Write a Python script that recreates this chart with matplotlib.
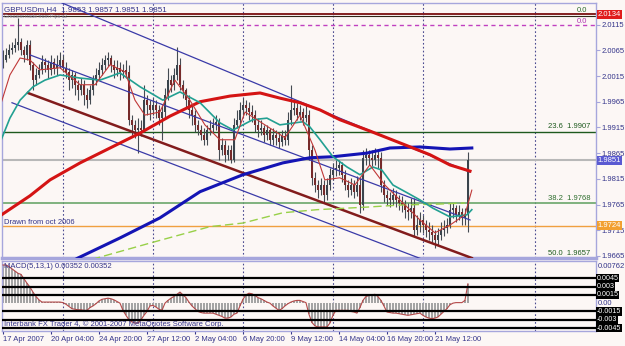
import numpy as np
import matplotlib
matplotlib.use("Agg")
import matplotlib.pyplot as plt

plt.rcParams["font.family"] = ["Liberation Sans", "DejaVu Sans"]

# ---- candle data (GBPUSDm H4, bar index 0 = 17 Apr 2007 00:00) ----
closes = [
    2.0046, 2.0056, 2.0066, 2.0070, 2.0075, 2.0081, 2.0066, 2.0056, 2.0075, 2.0037,
    2.0007, 2.0017, 2.0027, 2.0042, 2.0037, 2.0027, 2.0042, 2.0031, 2.0037, 2.0046,
    2.0031, 2.0023, 2.0007, 2.0017, 1.9998, 1.9988, 1.9998, 1.9978, 1.9968, 1.9988,
    2.0007, 2.0017, 2.0027, 2.0037, 2.0046, 2.0050, 2.0037, 2.0027, 2.0031, 2.0023,
    2.0027, 2.0023, 1.9930, 1.9920, 1.9910, 1.9914, 1.9910, 1.9968, 1.9959, 1.9949,
    1.9959, 1.9949, 1.9933, 1.9945, 1.9978, 2.0007, 1.9998, 2.0017, 2.0037, 1.9998,
    1.9988, 1.9968, 1.9949, 1.9939, 1.9920, 1.9910, 1.9900, 1.9891, 1.9910, 1.9914,
    1.9920, 1.9926, 1.9871, 1.9881, 1.9862, 1.9871, 1.9852, 1.9920, 1.9930, 1.9949,
    1.9959, 1.9953, 1.9945, 1.9939, 1.9920, 1.9910, 1.9914, 1.9900, 1.9910, 1.9891,
    1.9900, 1.9895, 1.9887, 1.9898, 1.9891, 1.9930, 1.9949, 1.9953, 1.9939, 1.9945,
    1.9933, 1.9939, 1.9871, 1.9817, 1.9803, 1.9793, 1.9803, 1.9784, 1.9803, 1.9823,
    1.9832, 1.9836, 1.9842, 1.9823, 1.9803, 1.9793, 1.9803, 1.9790, 1.9803, 1.9764,
    1.9856, 1.9862, 1.9856, 1.9852, 1.9862, 1.9856, 1.9803, 1.9784, 1.9778, 1.9774,
    1.9784, 1.9774, 1.9768, 1.9764, 1.9755, 1.9751, 1.9758, 1.9716, 1.9725, 1.9735,
    1.9725, 1.9716, 1.9712, 1.9706, 1.9696, 1.9706, 1.9716, 1.9720, 1.9725, 1.9755,
    1.9758, 1.9745, 1.9751, 1.9739, 1.9745, 1.9851,
]
highs = [
    2.0066, 2.0070, 2.0077, 2.0081, 2.0089, 2.0128, 2.0089, 2.0074, 2.0085, 2.0085,
    2.0042, 2.0031, 2.0039, 2.0056, 2.0050, 2.0046, 2.0056, 2.0050, 2.0056, 2.0062,
    2.0056, 2.0042, 2.0031, 2.0027, 2.0023, 2.0007, 2.0011, 2.0007, 1.9992, 1.9998,
    2.0017, 2.0031, 2.0042, 2.0050, 2.0056, 2.0062, 2.0056, 2.0046, 2.0046, 2.0042,
    2.0039, 2.0046, 2.0037, 1.9939, 1.9930, 1.9933, 1.9930, 1.9998, 1.9978, 1.9968,
    1.9972, 1.9968, 1.9959, 1.9959, 1.9992, 2.0031, 2.0017, 2.0031, 2.0072, 2.0050,
    2.0007, 1.9992, 1.9978, 1.9959, 1.9949, 1.9930, 1.9920, 1.9914, 1.9920, 1.9930,
    1.9933, 1.9939, 1.9933, 1.9895, 1.9891, 1.9881, 1.9881, 1.9933, 1.9949, 1.9965,
    1.9972, 1.9968, 1.9965, 1.9959, 1.9949, 1.9933, 1.9930, 1.9920, 1.9920, 1.9914,
    1.9914, 1.9910, 1.9906, 1.9910, 1.9910, 1.9945, 1.9998, 1.9968, 1.9963, 1.9959,
    1.9953, 1.9959, 1.9949, 1.9881, 1.9828, 1.9813, 1.9817, 1.9813, 1.9817, 1.9836,
    1.9846, 1.9852, 1.9852, 1.9848, 1.9832, 1.9813, 1.9817, 1.9813, 1.9821, 1.9817,
    1.9871, 1.9875, 1.9871, 1.9871, 1.9875, 1.9871, 1.9867, 1.9813, 1.9793, 1.9790,
    1.9797, 1.9793, 1.9784, 1.9782, 1.9774, 1.9768, 1.9778, 1.9778, 1.9745, 1.9751,
    1.9745, 1.9735, 1.9731, 1.9725, 1.9716, 1.9720, 1.9731, 1.9735, 1.9739, 1.9768,
    1.9768, 1.9764, 1.9764, 1.9758, 1.9758, 1.9867,
]
lows = [
    2.0031, 2.0042, 2.0050, 2.0058, 2.0062, 2.0066, 2.0056, 2.0042, 2.0046, 2.0027,
    1.9988, 1.9998, 2.0011, 2.0019, 2.0023, 2.0011, 2.0017, 2.0019, 2.0017, 2.0031,
    2.0023, 2.0011, 1.9988, 1.9992, 1.9978, 1.9968, 1.9978, 1.9959, 1.9953, 1.9961,
    1.9978, 1.9998, 2.0007, 2.0017, 2.0027, 2.0035, 2.0023, 2.0011, 2.0015, 2.0007,
    2.0011, 2.0011, 1.9920, 1.9900, 1.9895, 1.9865, 1.9898, 1.9906, 1.9939, 1.9930,
    1.9939, 1.9933, 1.9920, 1.9891, 1.9933, 1.9968, 1.9984, 1.9988, 2.0007, 1.9988,
    1.9972, 1.9953, 1.9933, 1.9920, 1.9906, 1.9900, 1.9891, 1.9881, 1.9881, 1.9900,
    1.9904, 1.9910, 1.9852, 1.9862, 1.9848, 1.9852, 1.9846, 1.9848, 1.9914, 1.9920,
    1.9939, 1.9939, 1.9930, 1.9926, 1.9906, 1.9897, 1.9900, 1.9887, 1.9891, 1.9881,
    1.9881, 1.9881, 1.9875, 1.9879, 1.9881, 1.9881, 1.9920, 1.9939, 1.9930, 1.9930,
    1.9920, 1.9926, 1.9852, 1.9803, 1.9790, 1.9778, 1.9784, 1.9770, 1.9774, 1.9793,
    1.9813, 1.9821, 1.9823, 1.9809, 1.9793, 1.9780, 1.9784, 1.9778, 1.9782, 1.9749,
    1.9755, 1.9842, 1.9842, 1.9840, 1.9842, 1.9836, 1.9790, 1.9770, 1.9764, 1.9760,
    1.9764, 1.9760, 1.9755, 1.9751, 1.9739, 1.9735, 1.9739, 1.9702, 1.9706, 1.9712,
    1.9710, 1.9702, 1.9696, 1.9692, 1.9681, 1.9686, 1.9696, 1.9704, 1.9710, 1.9720,
    1.9739, 1.9731, 1.9735, 1.9725, 1.9725, 1.9712,
]

# MACD(5,13,1) value per bar, in units of 0.0001
macd = [
    69, 69, 66, 62, 58, 54, 52, 44, 36, 29,
    20, 12, 6, 2, 2, 2, 2, 2, 2, 2,
    1, -2, -6, -10, -11, -12, -12, -13, -13, -8,
    -5, -1, 4, 7, 8, 9, 8, 6, 3, 0,
    -13, -22, -30, -34, -36, -36, -30, -22, -15, -5,
    -4, -7, -11, -13, 0, 5, 9, 12, 16, 20,
    15, 10, 2, -5, -10, -15, -17, -18, -18, -18,
    -18, -20, -22, -24, -27, -27, -25, -20, -18, -5,
    7, 15, 18, 17, 14, 10, 8, 5, 2, 0,
    -5, -9, -13, -10, -5, -1, 2, 4, 5, 5,
    3, 1, -20, -35, -41, -43, -43, -43, -43, -36,
    -22, -13, -13, -13, -13, -13, -15, -16, -18, -8,
    5, 12, 14, 15, 16, 12, 5, -5, -16, -17,
    -18, -18, -19, -20, -21, -22, -21, -20, -19, -18,
    -22, -25, -27, -28, -27, -25, -20, -15, -10, -3,
    0, 1, 1, 1, 5, 35,
]

# moving averages: (bar index, price)
ma_red_x = [-1, 9, 15.7, 25.7, 35.7, 45.7, 55.7, 65.7, 75.7, 85.7, 92.3, 99, 105.7,
            112.3, 122.3, 132.3, 142.3, 149, 155.7]
ma_red_y = [1.9743, 1.9782, 1.9813, 1.9846, 1.9875, 1.9904, 1.9937, 1.9965, 1.9976,
            1.9982, 1.9972, 1.9963, 1.9949, 1.9930, 1.9908, 1.9885, 1.9862, 1.9842, 1.9830]
ma_blue_x = [19, 25, 39, 52.3, 65.7, 80, 93.3, 102.3, 110, 121.3, 129, 139, 149, 156.3]
ma_blue_y = [1.9642, 1.9661, 1.9700, 1.9739, 1.9790, 1.9823, 1.9846, 1.9856, 1.9858,
             1.9865, 1.9875, 1.9877, 1.9873, 1.9875]
ma_green_x = [25.7, 31.3, 49, 69, 80, 93.3, 104.7, 121.3, 132.3, 145.7, 154]
ma_green_y = [1.9651, 1.9661, 1.9690, 1.9722, 1.9729, 1.9749, 1.9755, 1.9760, 1.9764,
              1.9766, 1.9768]
ma_teal_x = [-1, 2.3, 5.7, 10, 14, 19, 25.7, 32.3, 39, 45.7, 53.3, 59, 65.7, 72.3, 76.7,
             83.3, 88, 92.3, 100, 102.3, 105.7, 110, 114.7, 119, 123.3, 126.3, 130,
             134.7, 139, 143.3, 149, 154.7, 156.3]
ma_teal_y = [1.9885, 1.9933, 1.9968, 1.9994, 2.0007, 2.0017, 2.0011, 2.0007, 2.0021,
             1.9994, 1.9968, 1.9984, 1.9963, 1.9924, 1.9910, 1.9930, 1.9933, 1.9920,
             1.9926, 1.9916, 1.9891, 1.9858, 1.9838, 1.9823, 1.9838, 1.9832, 1.9803,
             1.9788, 1.9774, 1.9758, 1.9741, 1.9745, 1.9755]
ma_fast_x = [-1, 2.3, 5.7, 9, 12.3, 19, 25.7, 30.7, 35.7, 40.7, 44, 47.3, 52.3, 57.3,
             62.3, 67.3, 72.3, 77.3, 80.7, 87.3, 94, 99, 104, 107.3, 112.3, 117.3,
             122.3, 127.3, 132.3, 139, 144, 149, 154, 156.3]
ma_fast_y = [1.9955, 2.0017, 2.0050, 2.0046, 2.0027, 2.0031, 1.9998, 1.9998, 2.0037,
             2.0023, 1.9968, 1.9939, 1.9945, 2.0007, 1.9968, 1.9920, 1.9891, 1.9891,
             1.9945, 1.9920, 1.9895, 1.9939, 1.9871, 1.9813, 1.9817, 1.9803, 1.9842,
             1.9803, 1.9774, 1.9735, 1.9710, 1.9725, 1.9745, 1.9793]

# channel lines: (x0, y0, x1, y1)
chan_upper = (19.7, 2.0157, 155.7, 1.9828)
chan_middle = (9, 2.0056, 155.7, 1.9735)
chan_brown = (8.3, 1.9982, 156.3, 1.9661)
chan_lower = (3, 1.9963, 142.3, 1.9653)

price_ticks = [2.0115, 2.0065, 2.0015, 1.9965, 1.9915, 1.9865, 1.9815, 1.9765, 1.9715, 1.9665]
grid_bars = [20, 50, 80, 110, 140, 177.3]
time_idx = [0, 16, 32, 48, 64, 80, 96, 112, 128, 144]
time_labels = ["17 Apr 2007", "20 Apr 04:00", "24 Apr 20:00", "27 Apr 12:00", "2 May 04:00",
               "6 May 20:00", "9 May 12:00", "14 May 04:00", "16 May 20:00", "21 May 12:00"]
macd_levels = [0.0045, 0.003, 0.0015, -0.0015, -0.003, -0.0045]
macd_level_labels = ["0.0045", "0.003", "0.0015", "-0.0015", "-0.003", "-0.0045"]

BG = "#fcf7f5"
NAVY = "#34348a"
BORDER = "#a6a6dc"
FS = 5.5

fig = plt.figure(figsize=(6.25, 3.46), dpi=100, facecolor=BG)
ax = fig.add_axes([2 / 625, 88 / 346, 594 / 625, 255 / 346], facecolor=BG)
ax2 = fig.add_axes([2 / 625, 15 / 346, 594 / 625, 70 / 346], facecolor=BG)

xmin, xmax = -0.33, 197.7
for a in (ax, ax2):
    a.set_xlim(xmin, xmax)
    for s in a.spines.values():
        s.set_color(BORDER)
        s.set_linewidth(1)
    for g in grid_bars:
        a.axvline(g, color="#4a4a90", lw=0.8, ls=(0, (1.5, 2)), zorder=1)
ax.spines["bottom"].set_linewidth(2.5)
ax.set_ylim(1.9661, 2.0157)

# horizontal levels
ax.axhline(2.0135, color="#7a1010", lw=1.3, zorder=2)
ax.axhline(2.0131, color="#302818", lw=0.8, zorder=2)
ax.axhline(2.0114, color="#c040c0", lw=1, ls=(0, (3, 2.5)), zorder=2)
ax.axhline(1.9907, color="#1e5a1e", lw=1, zorder=2)
ax.axhline(1.9851, color="#b8b8b8", lw=1.5, zorder=2)
ax.axhline(1.9768, color="#6aa66a", lw=1.2, zorder=2)
ax.axhline(1.9724, color="#f0a040", lw=1, zorder=2)

# candles
idx = np.arange(len(closes))
c = np.array(closes)
o = np.r_[c[0], c[:-1]]
hi = np.array(highs)
lo = np.array(lows)
up = c >= o
body_col = np.where(up, "#3a444c", "#762a2a")
ax.vlines(idx, lo, hi, color="#454b52", lw=0.8, zorder=3)
body = np.maximum(np.abs(c - o), 0.00008)
ax.bar(idx, body, bottom=np.minimum(o, c), width=0.7, color=body_col, lw=0, zorder=4)

# channel lines
for (x0, y0, x1, y1), col, lw in [(chan_upper, "#3a3aa8", 0.9), (chan_middle, "#3a3aa8", 0.9),
                                  (chan_brown, "#821c1c", 1.8), (chan_lower, "#3a3aa8", 0.9)]:
    ax.plot([x0, x1], [y0, y1], color=col, lw=lw, zorder=5)

# moving averages
ax.plot(ma_green_x, ma_green_y, color="#98d048", lw=1.0, ls=(0, (6, 3)), zorder=5)
ax.plot(ma_blue_x, ma_blue_y, color="#1414b4", lw=2.2, zorder=6)
ax.plot(ma_red_x, ma_red_y, color="#d41414", lw=2.2, zorder=6)
ax.plot(ma_teal_x, ma_teal_y, color="#22a092", lw=1.2, zorder=6)
ax.plot(ma_fast_x, ma_fast_y, color="#c03838", lw=0.8, zorder=6)

# right price axis
ax.yaxis.tick_right()
ax.set_yticks(price_ticks)
ax.set_yticklabels([f"{p:.4f}" for p in price_ticks])
ax.tick_params(axis="y", labelcolor=NAVY, labelsize=FS, length=3, pad=1, width=0.8,
               color=BORDER)
ax.set_xticks([])

yt = ax.get_yaxis_transform()
for val, txt, col in [(2.0134, "2.0134", "#e01c1c"), (1.9851, "1.9851", "#5a5ad2"),
                      (1.9724, "1.9724", "#f2a030")]:
    ax.text(1.003, val, txt, transform=yt, fontsize=FS, color="white", va="center", ha="left",
            bbox=dict(boxstyle="square,pad=0.15", fc=col, ec="none"), zorder=10, clip_on=False)

ax.text(0.985, 2.0136, "0.0", transform=yt, fontsize=FS, color="#2a6a2a", ha="right", va="bottom")
ax.text(0.985, 2.0115, "0.0", transform=yt, fontsize=FS, color="#b030b0", ha="right", va="bottom")
ax.text(0.99, 1.9909, "23.6  1.9907", transform=yt, fontsize=FS, color="#1e5a1e", ha="right", va="bottom")
ax.text(0.99, 1.9770, "38.2  1.9768", transform=yt, fontsize=FS, color="#2e6e2e", ha="right", va="bottom")
ax.text(0.99, 1.9662, "50.0  1.9657", transform=yt, fontsize=FS, color="#1e5a1e", ha="right", va="bottom")

ax.text(0.003, 0.99, "GBPUSDm,H4  1.9853 1.9857 1.9851 1.9851", transform=ax.transAxes,
        fontsize=FS + 0.3, color=NAVY, va="top")
ax.text(0.003, 0.955, "Greatest trade from Pips v2", transform=ax.transAxes,
        fontsize=FS - 1.8, color="#8a8aa0", va="top")
ax.text(0.003, 1.9731, "Drawn from oct 2006", fontsize=FS, color=NAVY, va="center",
        transform=yt)

# MACD panel
ax2.set_ylim(-0.00503, 0.00762)
mv = np.array(macd) * 1e-4
ax2.bar(idx, mv, width=0.45, color="#a4a4a4", lw=0, zorder=2)
ax2.plot(idx, mv, color="#b44848", lw=0.8, zorder=3)
for lv in macd_levels:
    ax2.axhline(lv, color="black", lw=1.6, zorder=4)
ax2.set_yticks([])
yt2 = ax2.get_yaxis_transform()
ax2.text(1.003, 0.0066, "0.00762", transform=yt2, fontsize=FS, color=NAVY, va="center",
         ha="left", clip_on=False)
ax2.text(1.003, 0.0, "0.00", transform=yt2, fontsize=FS, color=NAVY, va="center",
         ha="left", clip_on=False)
for lv, txt in zip(macd_levels, macd_level_labels):
    ax2.text(1.001, lv, txt, transform=yt2, fontsize=FS - 0.4, color="white", va="center",
             ha="left", bbox=dict(boxstyle="square,pad=0.08", fc="black", ec="none"),
             clip_on=False, zorder=10)
ax2.text(0.003, 0.97, "MACD(5,13,1) 0.00352 0.00352", transform=ax2.transAxes,
         fontsize=FS, color=NAVY, va="top")
ax2.text(0.003, 0.04, "Interbank FX Trader 4, \u00a9 2001-2007 MetaQuotes Software Corp.",
         transform=ax2.transAxes, fontsize=FS, color=NAVY, va="bottom")

ax2.set_xticks(time_idx)
ax2.set_xticklabels(time_labels, ha="left")
ax2.tick_params(axis="x", colors=NAVY, labelsize=FS, length=2, pad=1.5, width=0.8)

fig.savefig("out.png", dpi=100, facecolor=BG)
